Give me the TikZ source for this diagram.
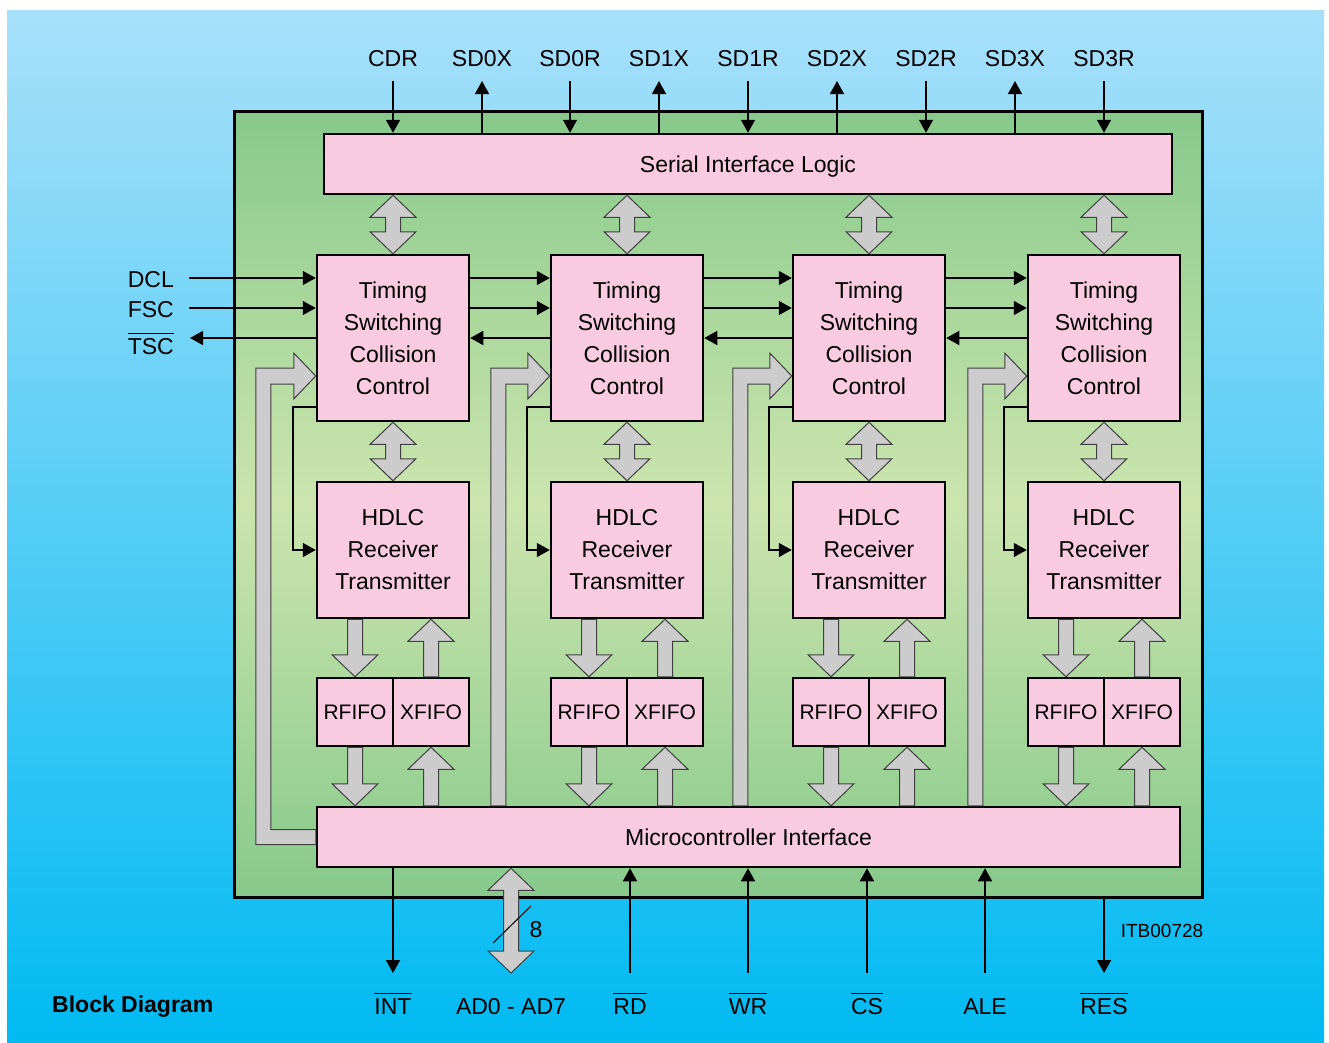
\documentclass[tikz,border=0pt]{standalone}
\usepackage{fontspec}
\setmainfont{Liberation Sans}
\usetikzlibrary{arrows.meta,calc}

\definecolor{pinkbox}{HTML}{F9CBE1}
\definecolor{busgray}{HTML}{CCCCCC}
\definecolor{chipgreen}{HTML}{87C98B}
\definecolor{chiplight}{HTML}{CCE5AE}
\definecolor{skytop}{HTML}{A8E0FA}
\definecolor{skybot}{HTML}{00BAF2}

\tikzset{
  blk/.style={draw, line width=2.5pt, fill=pinkbox, inner sep=0pt, align=center,
    font=\fontsize{23}{32}\selectfont},
  lbl/.style={inner sep=0pt, anchor=base, font=\fontsize{23}{28}\selectfont},
  sig/.style={line width=1.5pt, -{Triangle[length=13pt,width=14pt]}},
  wide/.style={draw=black!75, line width=1pt, fill=busgray},
}

% active-low signal name
\newcommand{\lowact}[1]{\setbox0\hbox{#1}%
  \rlap{\rule[\dimexpr\ht0+4pt\relax]{\wd0}{1.4pt}}\box0}

% wide bus arrows: double, down, up
\newcommand{\busdbl}[2]{%
  \draw[wide] let \p1=(#1), \p2=(#2) in
    (\x1,\y1) -- (\x1+23pt,\y1-22pt) -- (\x1+7.5pt,\y1-22pt) -- (\x1+7.5pt,\y2+22pt)
    -- (\x1+23pt,\y2+22pt) -- (\x1,\y2) -- (\x1-23pt,\y2+22pt) -- (\x1-7.5pt,\y2+22pt)
    -- (\x1-7.5pt,\y1-22pt) -- (\x1-23pt,\y1-22pt) -- cycle;}
\newcommand{\busdown}[2]{%
  \draw[wide] let \p1=(#1), \p2=(#2) in
    (\x1-7.5pt,\y1) -- (\x1-7.5pt,\y2+22pt) -- (\x1-23pt,\y2+22pt) -- (\x1,\y2)
    -- (\x1+23pt,\y2+22pt) -- (\x1+7.5pt,\y2+22pt) -- (\x1+7.5pt,\y1) -- cycle;}
\newcommand{\busup}[2]{%
  \draw[wide] let \p1=(#1), \p2=(#2) in
    (\x1-7.5pt,\y1) -- (\x1-7.5pt,\y2-22pt) -- (\x1-23pt,\y2-22pt) -- (\x1,\y2)
    -- (\x1+23pt,\y2-22pt) -- (\x1+7.5pt,\y2-22pt) -- (\x1+7.5pt,\y1) -- cycle;}
% bent bus from the microcontroller interface up to a timing block
\newcommand{\busturn}[2]{%
  \draw[wide] let \p1=(#1), \p2=(#2) in
    (\x1-59pt,\y2) -- (\x1-59pt,\y1+8pt) -- (\x1-22pt,\y1+8pt) -- (\x1-22pt,\y1+23pt)
    -- (\x1,\y1) -- (\x1-22pt,\y1-23pt) -- (\x1-22pt,\y1-8pt) -- (\x1-44pt,\y1-8pt)
    -- (\x1-44pt,\y2) -- cycle;}
\newcommand{\busturnfirst}[2]{%
  \draw[wide] let \p1=(#1), \p2=(#2) in
    (\x2,\y2+7.5pt) -- (\x1-45pt,\y2+7.5pt) -- (\x1-45pt,\y1-8pt) -- (\x1-22pt,\y1-8pt)
    -- (\x1-22pt,\y1-23pt) -- (\x1,\y1) -- (\x1-22pt,\y1+23pt) -- (\x1-22pt,\y1+8pt)
    -- (\x1-60pt,\y1+8pt) -- (\x1-60pt,\y2-7.5pt) -- (\x2,\y2-7.5pt) -- cycle;}

\begin{document}
\begin{tikzpicture}[x=1pt,y=-1pt]
\useasboundingbox (0,0) rectangle (1329,1042);
\fill[top color=skytop, bottom color=skybot] (7,10) rectangle (1324,1042);

\node[draw, line width=3pt, inner sep=0pt, minimum width=968, minimum height=786,
  top color=chipgreen, bottom color=chipgreen, middle color=chiplight] (chip) at (718,504) {};

\node[blk, minimum width=848, minimum height=60, text depth=0pt] (sil) at (748,164) {Serial Interface Logic};
\node[blk, minimum width=863, minimum height=60] (mci) at (748.5,837) {Microcontroller Interface};

\foreach \i/\x in {1/393,2/627,3/869,4/1104} {
  \node[blk, minimum width=152, minimum height=166] (tim\i) at (\x,338) {Timing\\Switching\\Collision\\Control};
  \node[blk, minimum width=152, minimum height=136] (hdlc\i) at (\x,550) {HDLC\\Receiver\\Transmitter};
  \node[blk, minimum width=76, minimum height=68, font=\fontsize{21}{24}\selectfont] (rf\i) at (\x-38,712) {RFIFO};
  \node[blk, minimum width=76, minimum height=68, font=\fontsize{21}{24}\selectfont] (xf\i) at (\x+38,712) {XFIFO};
}

\foreach \i in {1,...,4} {
  \busdbl{sil.south -| tim\i}{tim\i.north}
  \busdbl{tim\i.south}{hdlc\i.north}
  \busdown{hdlc\i.south -| rf\i}{rf\i.north}
  \busup{xf\i.north}{hdlc\i.south -| xf\i}
  \busdown{rf\i.south}{mci.north -| rf\i}
  \busup{mci.north -| xf\i}{xf\i.south}
  \draw[sig] ([yshift=-69pt]tim\i.west) -- ++(-23,0) |- (hdlc\i.west);
}
\busturnfirst{[yshift=-38pt]tim1.west}{mci.west}
\foreach \i in {2,3,4} {\busturn{[yshift=-38pt]tim\i.west}{mci.north}}

\foreach \a/\b in {1/2,2/3,3/4} {
  \draw[sig] ([yshift=60pt]tim\a.east) -- ([yshift=60pt]tim\b.west);
  \draw[sig] ([yshift=30pt]tim\a.east) -- ([yshift=30pt]tim\b.west);
  \draw[sig] (tim\b.west) -- (tim\a.east);
}

% serial lines
\foreach \nm/\x in {CDR/393,SD0R/570,SD1R/748,SD2R/926,SD3R/1104} {
  \node[lbl] (\nm) at (\x,66) {\nm};
  \coordinate (\nm-end) at (\x,81);
  \draw[sig] (\nm-end) -- (\nm-end |- sil.north);
}
\foreach \nm/\x in {SD0X/482,SD1X/659,SD2X/837,SD3X/1015} {
  \node[lbl] (\nm) at (\x,66) {\nm};
  \coordinate (\nm-end) at (\x,81);
  \draw[sig] (\nm-end |- sil.north) -- (\nm-end);
}

% clocks
\node[lbl, anchor=base east] (dcl) at (174,287) {DCL};
\node[lbl, anchor=base east] (fsc) at (174,317) {FSC};
\node[lbl, anchor=base east] (tsc) at (174,354) {\lowact{TSC}};
\coordinate (dcl-end) at (189,278);
\coordinate (fsc-end) at (189,308);
\coordinate (tsc-end) at (190,338);
\draw[sig] (dcl-end) -- (dcl-end -| tim1.west);
\draw[sig] (fsc-end) -- (fsc-end -| tim1.west);
\draw[sig] (tsc-end -| tim1.west) -- (tsc-end);

% microcontroller side
\node[lbl] (int) at (393,1014) {\lowact{INT}};
\coordinate (int-end) at (393,973);
\draw[sig] (mci.south -| int-end) -- (int-end);

\node[lbl] (ad) at (511,1014) {AD0 - AD7};
\coordinate (ad-end) at (511,973);
\busdbl{mci.south -| ad-end}{ad-end}
\draw[line width=1pt] (493,943) -- (531,906);
\node[lbl] (bw) at (536,937) {8};

\foreach \nm/\txt/\x in {rd/{\lowact{RD}}/630, wr/{\lowact{WR}}/748,
    cs/{\lowact{CS}}/867, ale/{ALE}/985} {
  \node[lbl] (\nm) at (\x,1014) {\txt};
  \coordinate (\nm-end) at (\x,973);
  \draw[sig] (\nm-end) -- (\nm-end |- mci.south);
}

\node[lbl] (res) at (1104,1014) {\lowact{RES}};
\coordinate (res-end) at (1104,973);
\draw[sig] (res-end |- chip.south) -- (res-end);

\node[lbl, font=\fontsize{19}{22}\selectfont] (itb) at (1162,937) {ITB00728};
\node[lbl, anchor=base west, font=\fontsize{23}{28}\selectfont\bfseries] (title) at (52,1012) {Block Diagram};
\end{tikzpicture}
\end{document}
